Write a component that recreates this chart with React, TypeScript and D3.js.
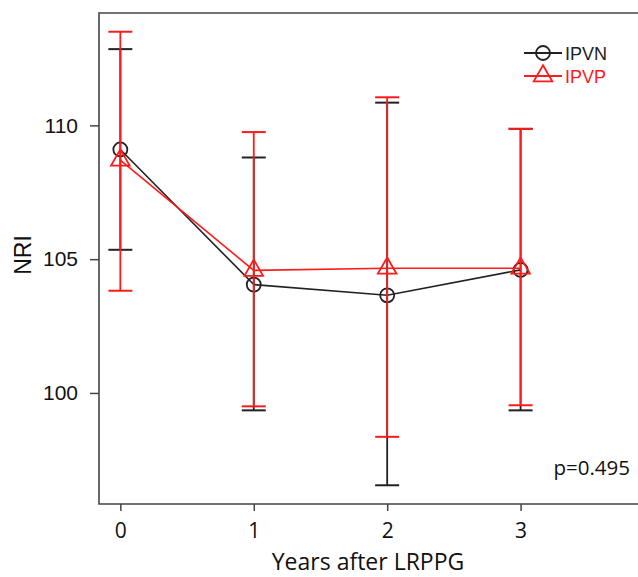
import React, { useRef, useEffect } from 'react';
import * as d3 from 'd3';

const years = [0, 1, 2, 3];
const yTicks = [100, 105, 110];

const ipvnMean = [109.1, 104.05, 103.65, 104.6];
const ipvnLow = [105.35, 99.35, 96.55, 99.35];
const ipvnHigh = [112.85, 108.8, 110.85, 109.87];

const ipvpMean = [108.7, 104.58, 104.66, 104.66];
const ipvpLow = [103.82, 99.5, 98.36, 99.54];
const ipvpHigh = [113.5, 109.75, 111.05, 109.87];

const seriesNames = ['IPVN', 'IPVP'];
const seriesColors = ['#222222', '#ff1a1a'];

function NriChart({ width = 638, height = 577 }) {
  const svgRef = useRef<SVGSVGElement>(null);

  useEffect(() => {
    const svg = d3.select(svgRef.current);
    svg.selectAll('*').remove();

    const left = 99, right = 638, top = 13, bottom = 504;

    const x = d3.scaleLinear().domain([-0.16, 3.88]).range([left, right]);
    const y = d3.scaleLinear().domain([95.85, 114.2]).range([bottom, top]);

    const g = svg.append('g');

    // frame (no right border)
    g.append('path')
      .attr('d', `M${right},${top}H${left}V${bottom}H${right}`)
      .attr('fill', 'none')
      .attr('stroke', '#444')
      .attr('stroke-width', 1.6);

    // y axis
    const yAxis = g.append('g')
      .attr('transform', `translate(${left},0)`)
      .call(d3.axisLeft(y).tickValues(yTicks).tickSize(9).tickPadding(12).tickFormat(d3.format('d')));
    yAxis.select('.domain').remove();
    yAxis.selectAll('line').attr('stroke', '#444').attr('stroke-width', 1.5);
    yAxis.selectAll('text')
      .attr('font-family', '"Liberation Sans", Arial, sans-serif')
      .attr('font-size', 21)
      .attr('fill', '#111');

    // x axis
    const xAxis = g.append('g')
      .attr('transform', `translate(0,${bottom})`)
      .call(d3.axisBottom(x).tickValues(years).tickSize(7).tickFormat(d3.format('d')));
    xAxis.select('.domain').remove();
    xAxis.selectAll('line').attr('stroke', '#444').attr('stroke-width', 1.5);
    xAxis.selectAll('text')
      .attr('y', 34)
      .attr('dy', 0)
      .attr('font-family', '"Open Sans", sans-serif')
      .attr('font-size', 21)
      .attr('fill', '#111');

    // axis titles
    g.append('text')
      .attr('x', 368)
      .attr('y', 570)
      .attr('text-anchor', 'middle')
      .attr('font-family', '"Open Sans", sans-serif')
      .attr('font-size', 23)
      .attr('fill', '#111')
      .text('Years after LRPPG');

    g.append('text')
      .attr('transform', `translate(31,255) rotate(-90)`)
      .attr('text-anchor', 'middle')
      .attr('font-family', '"Liberation Sans", Arial, sans-serif')
      .attr('font-size', 23)
      .attr('fill', '#111')
      .text('NRI');

    g.append('text')
      .attr('x', 630)
      .attr('y', 475)
      .attr('text-anchor', 'end')
      .attr('font-family', '"Open Sans", sans-serif')
      .attr('font-size', 20.5)
      .attr('fill', '#111')
      .text('p=0.495');

    const series = [
      { mean: ipvnMean, low: ipvnLow, high: ipvnHigh },
      { mean: ipvpMean, low: ipvpLow, high: ipvpHigh },
    ];

    const cap = 12;
    const line = d3.line<number>().x((_, i) => x(years[i])).y(d => y(d));
    const tri = d3.symbol().type(d3.symbolTriangle).size(150);

    series.forEach((s, si) => {
      const color = seriesColors[si];
      const sg = g.append('g');

      // error bars
      years.forEach((yr, i) => {
        const cx = x(yr);
        sg.append('line')
          .attr('x1', cx).attr('x2', cx)
          .attr('y1', y(s.low[i])).attr('y2', y(s.high[i]))
          .attr('stroke', color).attr('stroke-width', 1.8);
        [s.low[i], s.high[i]].forEach(v => {
          sg.append('line')
            .attr('x1', cx - cap).attr('x2', cx + cap)
            .attr('y1', y(v)).attr('y2', y(v))
            .attr('stroke', color).attr('stroke-width', 2);
        });
      });

      sg.append('path')
        .datum(s.mean)
        .attr('d', line)
        .attr('fill', 'none')
        .attr('stroke', color)
        .attr('stroke-width', 1.6);

      s.mean.forEach((v, i) => {
        if (si === 0) {
          sg.append('circle')
            .attr('cx', x(years[i])).attr('cy', y(v)).attr('r', 7)
            .attr('fill', 'none').attr('stroke', color).attr('stroke-width', 1.8);
        } else {
          sg.append('path')
            .attr('d', tri)
            .attr('transform', `translate(${x(years[i])},${y(v)})`)
            .attr('fill', 'none').attr('stroke', color).attr('stroke-width', 1.8);
        }
      });
    });

    // legend
    const legend = g.append('g');
    seriesNames.forEach((name, i) => {
      const ly = 53 + i * 23;
      const color = seriesColors[i];
      legend.append('line')
        .attr('x1', 524).attr('x2', 562).attr('y1', ly).attr('y2', ly)
        .attr('stroke', color).attr('stroke-width', 1.8);
      if (i === 0) {
        legend.append('circle')
          .attr('cx', 543).attr('cy', ly).attr('r', 7)
          .attr('fill', 'none').attr('stroke', color).attr('stroke-width', 1.8);
      } else {
        legend.append('path')
          .attr('d', tri)
          .attr('transform', `translate(543,${ly})`)
          .attr('fill', 'none').attr('stroke', color).attr('stroke-width', 1.8);
      }
      legend.append('text')
        .attr('x', 565)
        .attr('y', ly + 6.5)
        .attr('font-family', '"Liberation Sans", Arial, sans-serif')
        .attr('font-size', 18)
        .attr('fill', color)
        .text(name);
    });
  }, [width, height]);

  return (
    <svg
      ref={svgRef}
      width={width}
      height={height}
      style={{ position: 'absolute', left: 0, top: 0, background: '#fff' }}
    />
  );
}

export default function App() {
  return <NriChart />;
}
